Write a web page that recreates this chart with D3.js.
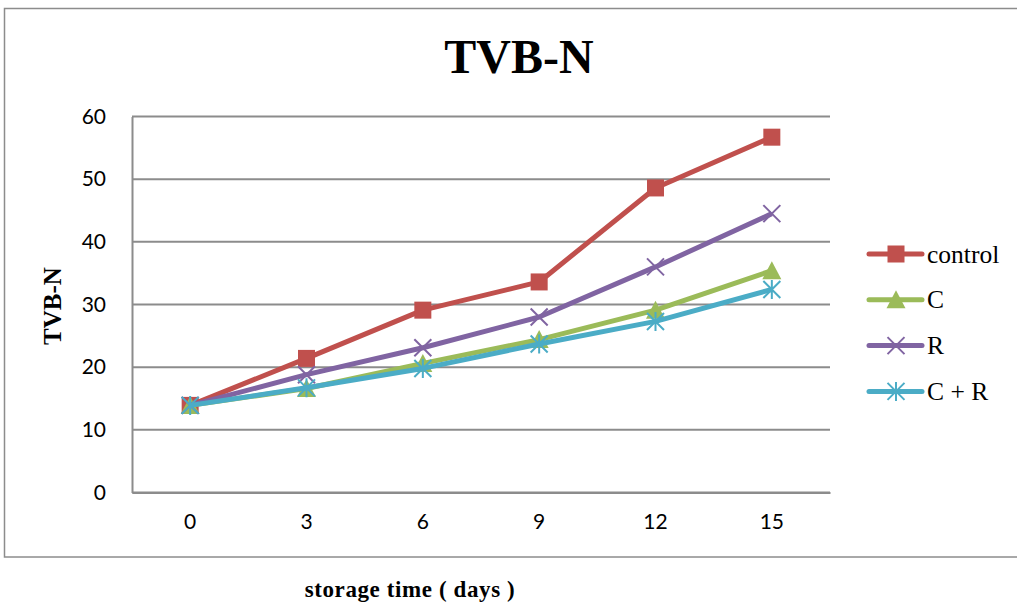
<!DOCTYPE html>
<html>
<head>
<meta charset="utf-8">
<script src="https://cdn.jsdelivr.net/npm/d3@7"></script>
<style>
  html, body { margin: 0; padding: 0; background: #fff; }
  svg { display: block; }
</style>
</head>
<body>
<svg id="chart" width="1017" height="604"></svg>
<script>
// Storage days (x categories) and TVB-N readings per treatment
const days = ["0", "3", "6", "9", "12", "15"];
const controlValues = [13.9, 21.4, 29.1, 33.6, 48.6, 56.7];
const cValues       = [13.9, 16.6, 20.6, 24.4, 29.1, 35.4];
const rValues       = [13.9, 18.8, 23.1, 28.0, 36.0, 44.5];
const crValues      = [13.9, 16.7, 19.8, 23.7, 27.3, 32.4];
const yTicks = [0, 10, 20, 30, 40, 50, 60];

const seriesNames = ["control", "C", "R", "C + R"];
const seriesColors = ["#C0504D", "#9BBB59", "#8064A2", "#4BACC6"];
const seriesMarkers = ["square", "triangle", "cross", "asterisk"];
const seriesData = [controlValues, cValues, rValues, crValues];

const svg = d3.select("#chart");
const plot = { left: 132, right: 830, top: 116.5, bottom: 492.5 };

// Outer chart frame
svg.append("rect")
  .attr("x", 4.5).attr("y", 8.5)
  .attr("width", 1030).attr("height", 548.5)
  .attr("fill", "none").attr("stroke", "#8c8c8c").attr("stroke-width", 1.5);

const x = d3.scaleBand().domain(days).range([plot.left, plot.right]);
const y = d3.scaleLinear().domain([0, 60]).range([plot.bottom, plot.top]);

// Horizontal gridlines
svg.append("g")
  .selectAll("line")
  .data(yTicks)
  .join("line")
  .attr("x1", plot.left).attr("x2", plot.right)
  .attr("y1", d => y(d)).attr("y2", d => y(d))
  .attr("stroke", "#8c8c8c").attr("stroke-width", 2);

// Y axis
const yAxis = svg.append("g")
  .attr("transform", `translate(${plot.left},0)`)
  .call(d3.axisLeft(y).tickValues(yTicks).tickSize(0).tickPadding(26));
yAxis.select(".domain").attr("stroke", "#8c8c8c").attr("stroke-width", 2);
yAxis.selectAll("text")
  .attr("font-family", "Lato, 'Open Sans', sans-serif")
  .attr("font-size", 21).attr("fill", "#000");

// X axis
const xAxis = svg.append("g")
  .attr("transform", `translate(0,${plot.bottom})`)
  .call(d3.axisBottom(x).tickSize(0).tickPadding(22));
xAxis.select(".domain").attr("stroke", "#8c8c8c").attr("stroke-width", 2);
xAxis.selectAll("text")
  .attr("font-family", "Lato, 'Open Sans', sans-serif")
  .attr("font-size", 21).attr("fill", "#000");

const cx = d => x(d) + x.bandwidth() / 2;

function drawMarker(g, type, color, px, py) {
  const s = 8.5;
  if (type === "square") {
    g.append("rect").attr("x", px - s).attr("y", py - s)
      .attr("width", 2 * s).attr("height", 2 * s).attr("fill", color);
  } else if (type === "triangle") {
    g.append("path")
      .attr("d", `M${px},${py - s - 1}L${px + s + 1},${py + s}L${px - s - 1},${py + s}Z`)
      .attr("fill", color);
  } else if (type === "cross") {
    g.append("path")
      .attr("d", `M${px - s},${py - s}L${px + s},${py + s}M${px - s},${py + s}L${px + s},${py - s}`)
      .attr("stroke", color).attr("stroke-width", 2).attr("fill", "none");
  } else if (type === "asterisk") {
    g.append("path")
      .attr("d", `M${px - s},${py - s}L${px + s},${py + s}M${px - s},${py + s}L${px + s},${py - s}M${px},${py - s - 1}L${px},${py + s + 1}`)
      .attr("stroke", color).attr("stroke-width", 2).attr("fill", "none");
  }
}

const line = d3.line().x((d, i) => cx(days[i])).y(d => y(d));

seriesData.forEach((vals, si) => {
  const g = svg.append("g");
  g.append("path")
    .attr("d", line(vals))
    .attr("fill", "none")
    .attr("stroke", seriesColors[si])
    .attr("stroke-width", 5)
    .attr("stroke-linejoin", "round");
  vals.forEach((v, i) => drawMarker(g, seriesMarkers[si], seriesColors[si], cx(days[i]), y(v)));
});

// Legend
const legend = svg.append("g");
seriesNames.forEach((name, i) => {
  const ly = 254 + i * 45.8;
  const g = legend.append("g");
  g.append("line")
    .attr("x1", 869).attr("x2", 922).attr("y1", ly).attr("y2", ly)
    .attr("stroke", seriesColors[i]).attr("stroke-width", 5).attr("stroke-linecap", "round");
  drawMarker(g, seriesMarkers[i], seriesColors[i], 896, ly);
  g.append("text")
    .attr("x", 927).attr("y", ly + 8.5)
    .attr("font-family", "'Liberation Serif', 'Times New Roman', serif")
    .attr("font-size", 25.5)
    .attr("fill", "#000")
    .text(name);
});

// Title
svg.append("text")
  .attr("x", 519).attr("y", 73)
  .attr("text-anchor", "middle")
  .attr("font-family", "'Liberation Serif', 'Times New Roman', serif")
  .attr("font-weight", "bold")
  .attr("font-size", 48)
  .text("TVB-N");

// Y axis title
svg.append("text")
  .attr("transform", "translate(61,306) rotate(-90)")
  .attr("text-anchor", "middle")
  .attr("font-family", "'Liberation Serif', 'Times New Roman', serif")
  .attr("font-weight", "bold")
  .attr("font-size", 25)
  .text("TVB-N");

// X axis title
svg.append("text")
  .attr("x", 410).attr("y", 597)
  .attr("text-anchor", "middle")
  .attr("font-family", "'Liberation Serif', 'Times New Roman', serif")
  .attr("font-weight", "bold")
  .attr("font-size", 23)
  .attr("letter-spacing", 0.6)
  .text("storage time ( days )");
</script>
</body>
</html>
